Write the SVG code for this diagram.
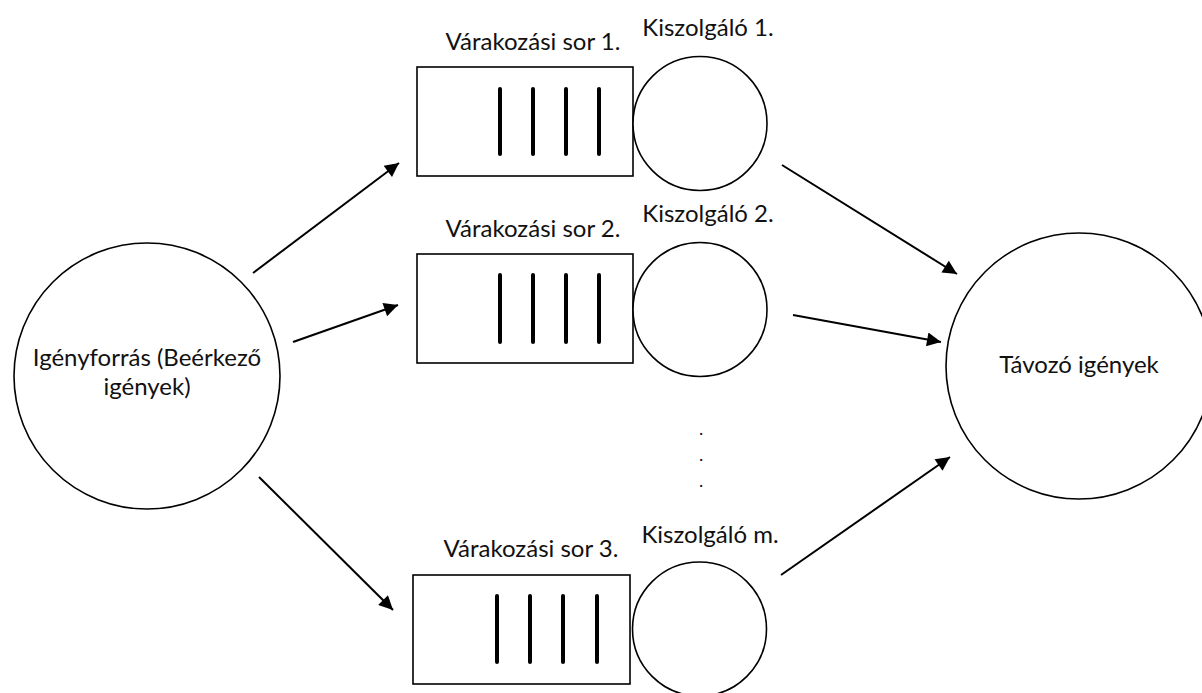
<svg xmlns="http://www.w3.org/2000/svg" width="1202" height="693" viewBox="0 0 1202 693">
  <style>
    .lbl { font-family: Lato, "Open Sans", "Liberation Sans", sans-serif; font-size: 24px; fill: #111; text-anchor: middle; }
    .dot { font-family: Lato, "Open Sans", "Liberation Sans", sans-serif; font-size: 18px; fill: #111; text-anchor: middle; }
    .shape { fill: #fff; stroke: #000; stroke-width: 1.6; }
    .bar { stroke: #000; stroke-width: 4; stroke-linecap: round; }
    .conn { stroke: #000; stroke-width: 2; fill: none; marker-end: url(#arrow); }
  </style>
  <defs>
    <marker id="arrow" viewBox="0 0 10 10" refX="10" refY="5" markerWidth="8" markerHeight="7" markerUnits="strokeWidth" orient="auto">
      <path d="M0,0 L10,5 L0,10 z" fill="#000"/>
    </marker>
  </defs>

  <!-- source of incoming requests -->
  <g id="source">
    <circle class="shape" cx="147" cy="376" r="133"/>
    <text class="lbl" x="147" y="366">Igényforrás (Beérkező</text>
    <text class="lbl" x="147" y="395">igények)</text>
  </g>

  <!-- queue 1 and server 1 -->
  <g id="queue1">
    <text class="lbl" x="533" y="50">Várakozási sor 1.</text>
    <rect class="shape" x="417" y="67" width="216" height="109"/>
    <line class="bar" x1="500" y1="89" x2="500" y2="154"/>
    <line class="bar" x1="533" y1="89" x2="533" y2="154"/>
    <line class="bar" x1="566" y1="89" x2="566" y2="154"/>
    <line class="bar" x1="599" y1="89" x2="599" y2="154"/>
  </g>
  <g id="server1">
    <text class="lbl" x="708" y="36">Kiszolgáló 1.</text>
    <circle class="shape" cx="700" cy="123.5" r="67"/>
  </g>

  <!-- queue 2 and server 2 -->
  <g id="queue2">
    <text class="lbl" x="533" y="237">Várakozási sor 2.</text>
    <rect class="shape" x="417" y="254" width="216" height="109"/>
    <line class="bar" x1="500" y1="275" x2="500" y2="342"/>
    <line class="bar" x1="533" y1="275" x2="533" y2="342"/>
    <line class="bar" x1="566" y1="275" x2="566" y2="342"/>
    <line class="bar" x1="599" y1="275" x2="599" y2="342"/>
  </g>
  <g id="server2">
    <text class="lbl" x="708" y="222">Kiszolgáló 2.</text>
    <circle class="shape" cx="700" cy="309.5" r="67"/>
  </g>

  <!-- ellipsis between the servers -->
  <g id="ellipsis">
    <text class="dot" x="701" y="435">.</text>
    <text class="dot" x="701" y="461">.</text>
    <text class="dot" x="701" y="487">.</text>
  </g>

  <!-- queue 3 and server m -->
  <g id="queue3">
    <text class="lbl" x="531" y="557">Várakozási sor 3.</text>
    <rect class="shape" x="413" y="575" width="217" height="109"/>
    <line class="bar" x1="497" y1="596" x2="497" y2="662"/>
    <line class="bar" x1="530" y1="596" x2="530" y2="662"/>
    <line class="bar" x1="563" y1="596" x2="563" y2="662"/>
    <line class="bar" x1="597" y1="596" x2="597" y2="662"/>
  </g>
  <g id="serverm">
    <text class="lbl" x="710" y="543">Kiszolgáló m.</text>
    <circle class="shape" cx="699.5" cy="629" r="67"/>
  </g>

  <!-- departing requests -->
  <g id="sink">
    <circle class="shape" cx="1079" cy="366" r="133"/>
    <text class="lbl" x="1079" y="373">Távozó igények</text>
  </g>

  <g id="connectors">
    <line class="conn" x1="253" y1="273" x2="399" y2="163"/>
    <line class="conn" x1="293" y1="342" x2="398" y2="305"/>
    <line class="conn" x1="259" y1="477" x2="393" y2="610"/>
    <line class="conn" x1="782" y1="165" x2="957" y2="274"/>
    <line class="conn" x1="793" y1="315" x2="941" y2="342"/>
    <line class="conn" x1="781" y1="575" x2="950" y2="457"/>
  </g>
</svg>
